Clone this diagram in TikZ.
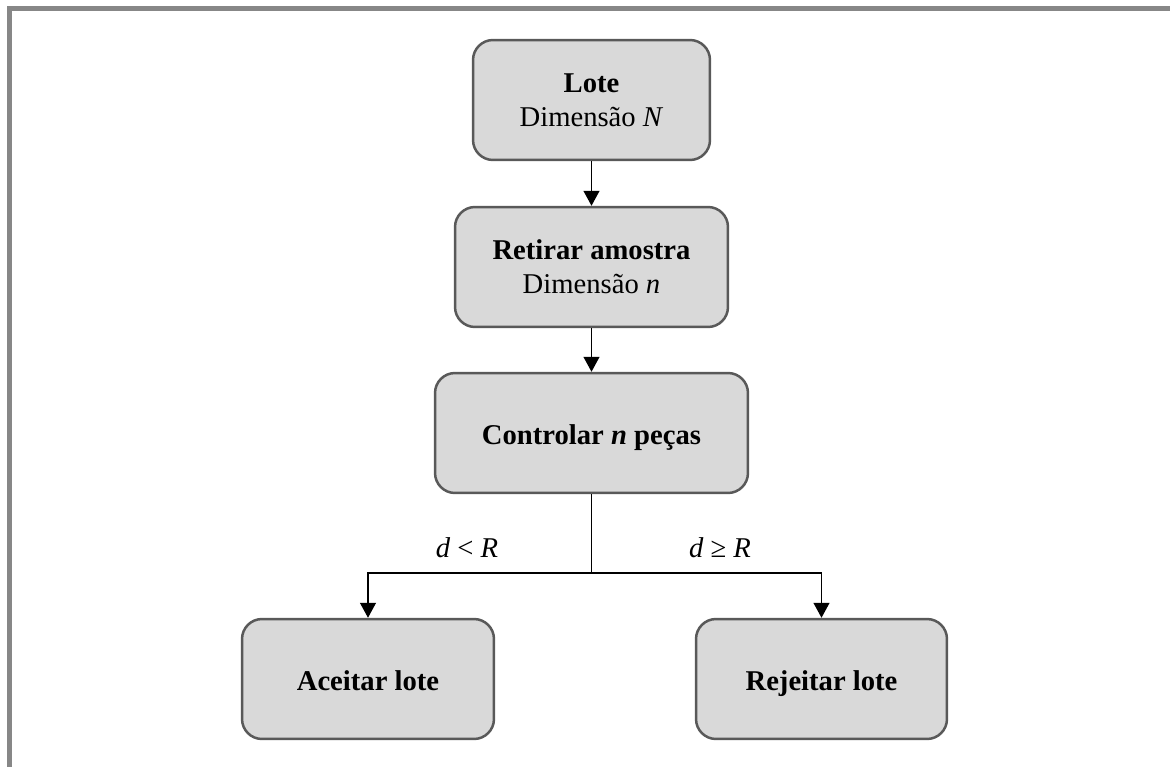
\documentclass[tikz,border=0pt]{standalone}
\usepackage{fontspec}
\setmainfont{Liberation Serif}
\usetikzlibrary{arrows.meta}
\definecolor{boxfill}{HTML}{D9D9D9}
\definecolor{boxline}{HTML}{595959}
\definecolor{framegray}{HTML}{878787}
% invisible strut: keeps single-line labels on a common baseline
\newcommand\labelstrut{\rule[-4pt]{0pt}{21.6pt}}
\begin{document}
\begin{tikzpicture}[x=0.02cm,y=-0.02cm,
  stepbox/.style={draw=boxline, fill=boxfill, line width=0.05cm,
    rounded corners=0.4cm, inner sep=0pt, align=center,
    minimum height=2.4cm, font=\fontsize{16.3}{19.4}\selectfont},
  flow/.style={draw=black, line width=0.026cm,
    -{Triangle[width=0.32cm,length=0.3cm]}},
  cond/.style={font=\fontsize{16.3}{19.4}\selectfont, inner sep=0pt, anchor=base}]
  \useasboundingbox (0,0) rectangle (1170,767);

  % outer frame (top and left edges)
  \draw[framegray, line width=0.09cm] (9.5,767) -- (9.5,8.5) -- (1170,8.5);

  % process boxes
  \node[stepbox, minimum width=4.74cm] (lote) at (591.5,100)
    {\textbf{Lote}\\Dimensão \textit{N}};
  \node[stepbox, minimum width=5.46cm] (retirar) at (591.5,267)
    {\textbf{Retirar amostra}\\Dimensão \textit{n}};
  \node[stepbox, minimum width=6.26cm] (ctrl) at (591.5,433)
    {\labelstrut\textbf{Controlar \textit{n} peças}};
  \node[stepbox, minimum width=5.04cm] (aceitar) at (368,679)
    {\labelstrut\textbf{Aceitar lote}};
  \node[stepbox, minimum width=5.02cm] (rejeitar) at (821.5,679)
    {\labelstrut\textbf{Rejeitar lote}};

  % connectors
  \draw[flow] (lote) -- (retirar);
  \draw[flow] (retirar) -- (ctrl);
  \coordinate (split) at (591.5,573);
  \draw[line width=0.026cm] (ctrl.south) -- (split);
  \draw[flow] (split) -| (aceitar.north);
  \draw[flow] (split) -| (rejeitar.north);

  % decision conditions
  \node[cond] (lt) at (467,557) {\textit{d} < \textit{R}};
  \node[cond] (ge) at (720,557) {\textit{d} ≥ \textit{R}};
\end{tikzpicture}
\end{document}
